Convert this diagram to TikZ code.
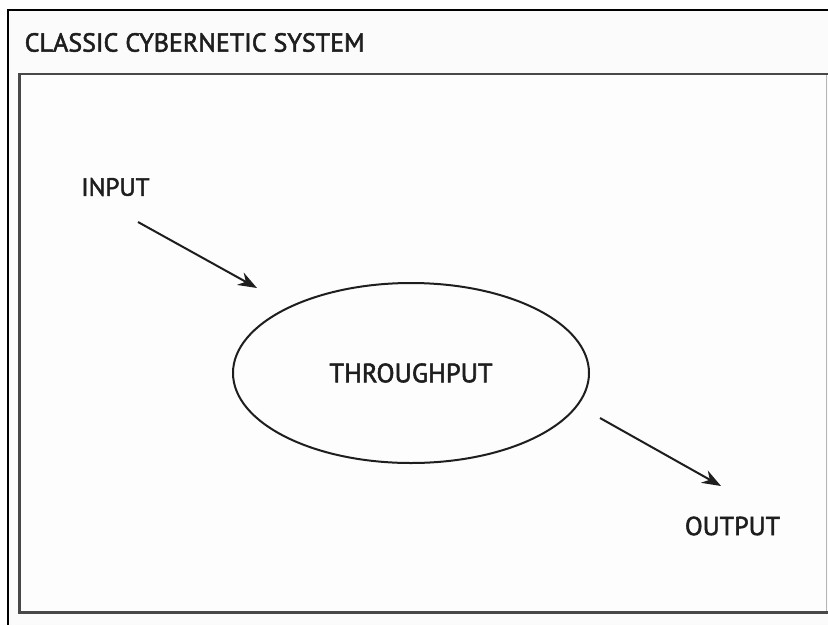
\documentclass[tikz,border=0pt]{standalone}
\usepackage{fontspec}
\setmainfont{PT Sans}[UprightFeatures={FakeBold=2}]
\usetikzlibrary{shapes.geometric,arrows.meta}
\definecolor{ink}{HTML}{1E1E1E}
\definecolor{panel}{HTML}{FBFBFB}
\definecolor{frame}{HTML}{484848}
\tikzset{
  label text/.style={text=ink, inner sep=0pt, font=\fontsize{26}{26}\selectfont},
  flow/.style={draw=ink, line width=2pt, -{Stealth[length=19pt,width=14pt]}},
}
\begin{document}
\begin{tikzpicture}[x=1pt,y=-1pt]
  \useasboundingbox (0,0) rectangle (828,625);
  \fill[white] (0,0) rectangle (828,625);
  % outer panel with title bar
  \fill[panel] (8,10) rectangle (828,625);
  \draw[black, line width=2pt] (8,625) -- (8,10) -- (828,10);
  \node[label text, anchor=west] (title) at (24.5,42.5) {CLASSIC CYBERNETIC SYSTEM};
  % inner drawing area
  \fill[white!60!panel] (19.5,74) rectangle (826.5,612.5);
  \draw[frame!40, line width=0.8pt] (826.5,74) -- (826.5,612.5);
  \draw[frame, line width=2.4pt] (828,74) -- (19.5,74) -- (19.5,612.5) -- (828,612.5);
  % system
  \node[label text, font=\fontsize{25}{25}\selectfont] (input) at (115.5,187) {INPUT};
  \node[draw=ink, line width=2pt, ellipse, minimum width=356pt, minimum height=180pt,
        inner sep=0pt, text=ink, font=\fontsize{26.5}{26.5}\selectfont] (thru) at (411,373) {THROUGHPUT};
  \node[label text] (output) at (732.5,526) {OUTPUT};
  \coordinate (inA) at (138,222);
  \coordinate (inB) at (257,288);
  \coordinate (outA) at (600,418);
  \coordinate (outB) at (721,486);
  \draw[flow] (inA) -- (inB);
  \draw[flow] (outA) -- (outB);
\end{tikzpicture}
\end{document}
